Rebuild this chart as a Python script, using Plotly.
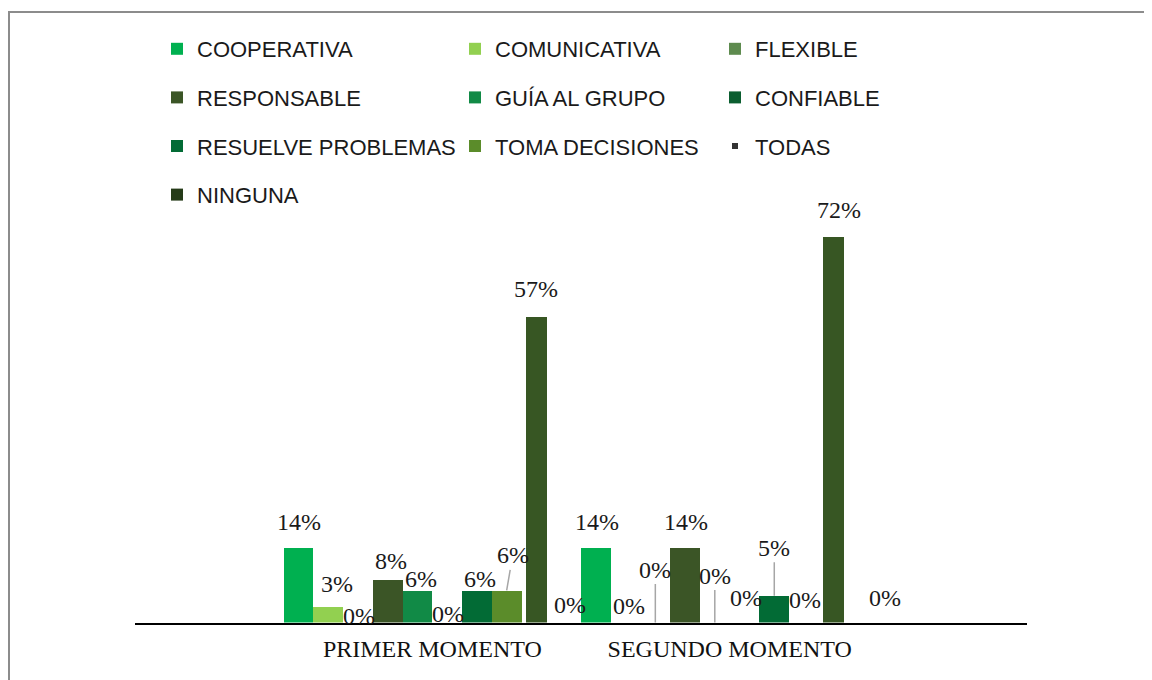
import plotly.graph_objects as go

# ---------------- data ----------------
categories = ["PRIMER MOMENTO", "SEGUNDO MOMENTO"]
series_names = ["COOPERATIVA", "COMUNICATIVA", "FLEXIBLE", "RESPONSABLE", "GUÍA AL GRUPO",
                "CONFIABLE", "RESUELVE PROBLEMAS", "TOMA DECISIONES", "TODAS", "NINGUNA"]
cooperativa = [0.14, 0.14]
comunicativa = [0.03, 0.00]
flexible = [0.00, 0.00]
responsable = [0.08, 0.14]
guia_al_grupo = [0.06, 0.00]
confiable = [0.00, 0.00]
resuelve_problemas = [0.06, 0.05]
toma_decisiones = [0.06, 0.00]
todas = [0.57, 0.72]
ninguna = [0.00, 0.00]
series_values = [cooperativa, comunicativa, flexible, responsable, guia_al_grupo,
                 confiable, resuelve_problemas, toma_decisiones, todas, ninguna]

# ---------------- styles ----------------
colors = ["#00B050", "#92D050", "#5E8B4F", "#3B5526", "#118A46",
          "#0B5E30", "#026B35", "#5B8C2A", "#375623", "#253B18"]
legend_of = ["legend", "legend2", "legend3", "legend", "legend2",
             "legend3", "legend", "legend2", "legend3", "legend"]
# data-label placement (screen-pixel offsets of the label centre from the bar top / slot
# centre; negative dy = upwards): (series, category) -> (dx, dy, leader_line)
label_pos = {
    (0, 0): (0, -25, False), (1, 0): (9, -22, False), (2, 0): (1, -7, False),
    (3, 0): (3, -19, False), (4, 0): (4, -11, False), (5, 0): (1, -9, False),
    (6, 0): (3, -11, False), (7, 0): (6, -35, True), (8, 0): (0, -28, False),
    (9, 0): (4, -18, False),
    (0, 1): (1, -25, False), (1, 1): (3, -17, False), (2, 1): (0, -53, True),
    (3, 1): (1, -25, False), (4, 1): (0, -47, True), (5, 1): (1, -25, False),
    (6, 1): (0, -48, True), (7, 1): (1, -23, False), (8, 1): (5, -27, False),
    (9, 1): (22, -25, False),
}

# screen geometry (page body has an 8px margin)
OFF = 8
W, H = 1144, 672


def px(xs):
    return (xs - OFF) / W


def py(ys):
    return 1 - (ys - OFF) / H


serif = "Liberation Serif"
sans = "Liberation Sans"
n = len(series_names)
bargap = 0.0

fig = go.Figure()
for si, (name, vals) in enumerate(zip(series_names, series_values)):
    kw = {}
    if name == "TODAS":
        kw["width"] = 0.072
    fig.add_trace(go.Bar(
        x=categories, y=vals, name=name,
        marker=dict(color=colors[si], line=dict(width=0)),
        hoverinfo="skip", cliponaxis=False,
        legend=legend_of[si], legendgroup=name,
        showlegend=(name != "TODAS"),
        **kw,
    ))

# legend entry for TODAS (small marker, as in the original)
fig.add_trace(go.Scatter(
    x=[None], y=[None], mode="markers", name="TODAS",
    marker=dict(symbol="square", size=6, color="#333333"),
    legend="legend3", legendgroup="TODAS_leg", showlegend=True, hoverinfo="skip",
))

# data labels
annotations = []
for si, vals in enumerate(series_values):
    for ci, v in enumerate(vals):
        dx, dy, leader = label_pos[(si, ci)]
        xpos = ci + (-0.5 + (si + 0.5) / n) * (1 - bargap)
        a = dict(x=xpos, y=v, xref="x", yref="y", text=f"{v:.0%}",
                 font=dict(family=serif, size=24, color="#1a1a1a"))
        if leader:
            a.update(showarrow=True, arrowhead=0, arrowwidth=1.5, arrowcolor="#a6a6a6",
                     ax=dx, ay=dy, standoff=0, startstandoff=0)
        else:
            a.update(showarrow=False, xshift=dx, yshift=-dy,
                     xanchor="center", yanchor="middle")
        annotations.append(a)

legend_common = dict(
    orientation="v", traceorder="grouped", tracegroupgap=17,
    font=dict(family=sans, size=22, color="#1a1a1a"),
    bgcolor="rgba(0,0,0,0)", borderwidth=0,
    xanchor="left", yanchor="top", itemclick=False, itemdoubleclick=False,
)

fig.update_layout(
    width=W, height=H,
    margin=dict(l=0, r=0, t=0, b=0),
    paper_bgcolor="white", plot_bgcolor="white",
    barmode="group", bargap=bargap, bargroupgap=0,
    showlegend=True,
    legend=dict(x=px(157), y=py(28), **legend_common),
    legend2=dict(x=px(455), y=py(28), **legend_common),
    legend3=dict(x=px(715), y=py(28), **legend_common),
    xaxis=dict(
        domain=[px(135), px(1027)], range=[-1, 2], type="category",
        showline=True, linecolor="#000000", linewidth=2, ticks="",
        showgrid=False, zeroline=False, ticklabelstandoff=4,
        tickfont=dict(family=serif, size=24, color="#111111"),
    ),
    yaxis=dict(
        domain=[py(622.5), py(622.5 - 536 * 0.8)], range=[0, 0.8],
        visible=False, showgrid=False, zeroline=False,
    ),
    annotations=annotations,
    shapes=[dict(type="rect", xref="paper", yref="paper",
                 x0=px(9), x1=1.02, y0=-0.02, y1=py(12),
                 line=dict(color="#8c8c8c", width=2), fillcolor="rgba(0,0,0,0)")],
)

fig.write_html("out.html")
